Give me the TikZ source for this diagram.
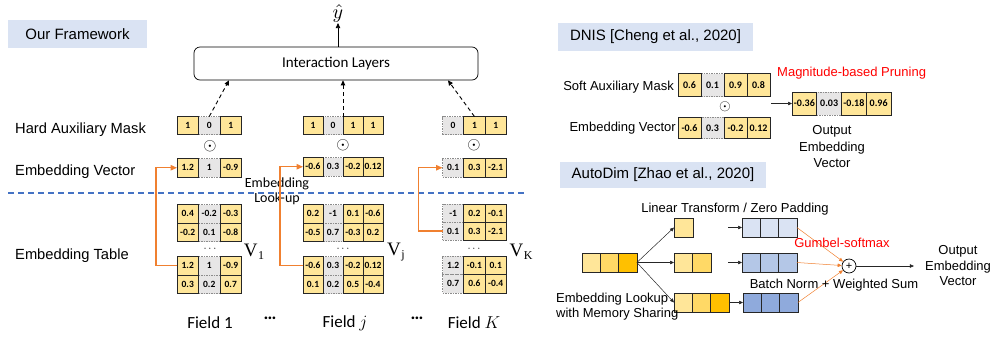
\documentclass[tikz,border=0pt]{standalone}
\usepackage{fontspec}
\setmainfont{Liberation Sans}
\newfontfamily\calib{Carlito}
\newfontfamily\serifV{Liberation Serif}
\usetikzlibrary{arrows.meta,calc}
\definecolor{cyel}{HTML}{FFE699}
\definecolor{cyelm}{HTML}{FFD966}
\definecolor{cgold}{HTML}{FFC000}
\definecolor{cgray}{HTML}{E7E6E6}
\definecolor{cb1}{HTML}{DAE3F3}
\definecolor{cb2}{HTML}{B4C7E7}
\definecolor{cb3}{HTML}{8FAADC}
\definecolor{cband}{HTML}{DAE3F3}
\definecolor{corange}{HTML}{F08030}
\definecolor{cdblue}{HTML}{4472C4}
\newcommand{\fs}[2]{\fontsize{#1}{#2}\selectfont}
\newcommand{\cellfont}{\calib\bfseries\fs{9.5}{10}}
\newcommand{\dcellfont}{\calib\bfseries\fs{10}{11}}
\newcommand{\vsub}[1]{{\serifV V\kern0.5pt\raisebox{-3.5pt}{\fs{12}{13}#1}}}
\newcommand{\hadamard}[1]{\scalebox{#1}{$\odot$}}
\tikzset{
 cellbase/.style={inner sep=0pt, outer sep=0pt, line width=0.8pt},
 gcell/.style={cellbase, fill=cgray, draw=black!45, dash pattern=on 1.5pt off 1pt},
 ycell/.style={cellbase, draw=black!85},
 band/.style={fill=cband, inner sep=0pt, minimum height=28pt},
 lbl/.style={font=\fs{14.7}{17}, anchor=west, inner sep=0pt},
 rlbl/.style={font=\fs{13}{15.5}, inner sep=0pt},
 vlab/.style={font=\fs{19}{21}, inner sep=0pt},
 fieldlab/.style={font=\calib\fs{17}{19}, inner sep=0pt},
 odotlab/.style={inner sep=0pt},
 arr/.style={-{Triangle[length=5pt,width=4.5pt]}, line width=0.7pt},
 darr/.style={arr, dash pattern=on 4pt off 3pt, line width=0.9pt},
 oarr/.style={-{Triangle[length=6.5pt,width=5.5pt]}, draw=corange, line width=1.3pt},
 sarr/.style={-{Triangle[length=4pt,width=3.5pt]}, line width=0.5pt, draw=black!85},
 othin/.style={-{Triangle[length=4pt,width=3.5pt]}, draw=corange, line width=0.5pt},
}
\newcommand{\cellrow}[7]{%
 \foreach [count=\i] \t/\v in {#7}{%
   \ifnum\t=0 \node[gcell, minimum width=#4pt, minimum height=#5pt, font=#6] (#1\i) at ({#2+(\i-0.5)*#4},{#3+0.5*#5}) {\v};\fi}%
 \foreach [count=\i] \t/\v in {#7}{%
   \ifnum\t>0 \ifcase\t\or\def\cfill{cyel}\or\def\cfill{cyelm}\or\def\cfill{cgold}\or\def\cfill{cb1}\or\def\cfill{cb2}\or\def\cfill{cb3}\fi
   \node[ycell, fill=\cfill, minimum width=#4pt, minimum height=#5pt, font=#6] (#1\i) at ({#2+(\i-0.5)*#4},{#3+0.5*#5}) {\v};\fi}%
}
\begin{document}
\begin{tikzpicture}[x=1pt,y=-1pt]
\useasboundingbox (0,0) rectangle (991,341);

% ---------------- Our Framework ----------------
\node[band, minimum width=139pt, font=\fs{15}{18}] (ourfw) at (77.5,34) {Our Framework};
\node[draw, rounded corners=6pt, line width=0.7pt, minimum width=284pt, minimum height=33pt, font=\calib\fs{15}{17}] (inter) at (336,63.5) {Interaction Layers};
\node[inner sep=1pt] (yhat) at (338,13) {\scalebox{2.0}{$\hat{y}$}};
\draw[arr] (inter.north -| yhat) -- (yhat.south);

\node[lbl] (lhm) at (15,130) {Hard Auxiliary Mask};
\node[lbl] (lev) at (15,172) {Embedding Vector};
\node[lbl] (let) at (15,256) {Embedding Table};

\draw[draw=cdblue, line width=1.3pt, dash pattern=on 6pt off 4pt] (8,193) -- (527,193);
\node[font=\calib\fs{14}{15}, align=center, inner sep=0pt] (lookup) at (277,191.5) {Embedding\\Look-up};

% Field 1
\cellrow{ma}{177}{116.5}{21.5}{18}{\cellfont}{1/1,0/0,1/1}
\node[odotlab] (oa) at (210,146) {\hadamard{1.7}};
\cellrow{va}{177}{158.5}{21.5}{18.5}{\cellfont}{1/1.2,0/1,1/-0.9}
\cellrow{tap}{177}{204.5}{21.5}{18.5}{\cellfont}{1/0.4,0/-0.2,1/-0.3}
\cellrow{taq}{177}{223}{21.5}{18.5}{\cellfont}{1/-0.2,0/0.1,1/-0.8}
\node[font=\fs{11}{12}, inner sep=0pt] (dta) at (210,249) {$\cdots$};
\cellrow{tar}{177}{256.5}{21.5}{18.5}{\cellfont}{1/1.2,0/1,1/-0.9}
\cellrow{tas}{177}{275}{21.5}{18.5}{\cellfont}{1/0.3,0/0.2,1/0.7}
\node[vlab] (Va) at (254,252) {\vsub{1}};
\node[fieldlab] (fa) at (210,323) {Field 1};

% Field j
\cellrow{mj}{303}{116.5}{20}{18}{\cellfont}{1/1,0/0,1/1,1/1}
\node[odotlab] (oj) at (343,145) {\hadamard{1.7}};
\cellrow{vj}{303}{157.5}{20}{18.5}{\cellfont}{1/-0.6,0/0.3,1/-0.2,1/0.12}
\cellrow{tjp}{303}{204.5}{20}{18.5}{\cellfont}{1/0.2,0/-1,1/0.1,1/-0.6}
\cellrow{tjq}{303}{223}{20}{18.5}{\cellfont}{1/-0.5,0/0.7,1/-0.3,1/0.2}
\node[font=\fs{11}{12}, inner sep=0pt] (dtj) at (343,249) {$\cdots$};
\cellrow{tjr}{303}{256.5}{20}{18.5}{\cellfont}{1/-0.6,0/0.3,1/-0.2,1/0.12}
\cellrow{tjs}{303}{275}{20}{18.5}{\cellfont}{1/0.1,0/0.2,1/0.5,1/-0.4}
\node[vlab] (Vj) at (396,252) {\vsub{j}};
\node[fieldlab] (fj) at (345,323) {Field $j$};

% Field K
\cellrow{mk}{442.5}{116.5}{21.3}{18}{\cellfont}{0/0,1/1,1/1}
\node[odotlab] (ok) at (474,145) {\hadamard{1.7}};
\cellrow{vk}{442.5}{158.5}{21.3}{18.5}{\cellfont}{0/0.1,1/0.3,1/-2.1}
\cellrow{tkp}{442.5}{204}{21.3}{18}{\cellfont}{0/-1,1/0.2,1/-0.1}
\cellrow{tkq}{442.5}{222}{21.3}{18}{\cellfont}{0/0.1,1/0.3,1/-2.1}
\node[font=\fs{11}{12}, inner sep=0pt] (dtk) at (474,249) {$\cdots$};
\cellrow{tkr}{442.5}{256}{21.3}{18.5}{\cellfont}{0/1.2,1/-0.1,1/0.1}
\cellrow{tks}{442.5}{274.5}{21.3}{18.5}{\cellfont}{0/0.7,1/0.6,1/-0.4}
\node[vlab] (Vk) at (521,252) {\vsub{K}};
\node[fieldlab] (fk) at (474,323) {Field $K$};

\node[font=\calib\bfseries\fs{18}{20}, inner sep=0pt] (dda) at (270,318) {…};
\node[font=\calib\bfseries\fs{18}{20}, inner sep=0pt] (ddb) at (417,318) {…};

% dashed arrows
\draw[darr] (ma2.north) -- ($(inter.south)+(-107,0)$);
\draw[darr] (mj2.north east) -- (mj2.north east |- inter.south);
\draw[darr] (mk2.north) -- ($(inter.south)+(112,0)$);

% orange look-up arrows
\draw[oarr] (tar1.west) -- ++(-21,0) |- (va1.west);
\draw[oarr] (tjr1.west) -- ++(-23,0) |- (vj1.west);
\draw[oarr] (tkq1.west) -- ++(-24,0) |- (vk1.west);

% ---------------- DNIS ----------------
\node[band, minimum width=195pt, font=\fs{15}{18}] (dnis) at (655.5,37) {DNIS [Cheng et al., 2020]};
\node[rlbl, anchor=east] (dsl) at (674,87) {Soft Auxiliary Mask};
\cellrow{dm}{678}{73.5}{23}{23}{\dcellfont}{1/0.6,0/0.1,1/0.9,1/0.8}
\node[odotlab] (dod) at (725,107) {\hadamard{1.5}};
\node[rlbl, anchor=east] (dev) at (676,128) {Embedding Vector};
\cellrow{dv}{678}{117}{23}{21.5}{\dcellfont}{1/-0.6,0/0.3,1/-0.2,1/0.12}
\cellrow{dout}{792}{92}{24.75}{23}{\dcellfont}{1/-0.36,0/0.03,1/-0.18,1/0.96}
\draw[sarr] (dout1.west -| dm4.east) ++(1,0) -- (dout1.west);
\node[rlbl, text=red, anchor=west] (mag) at (777,73) {Magnitude-based Pruning};
\node[rlbl, align=center, font=\fs{13}{16.5}] (doutl) at (832,147) {Output\\Embedding\\Vector};

% ---------------- AutoDim ----------------
\node[band, minimum width=206pt, minimum height=26pt, font=\fs{15}{18}] (autod) at (663,175) {AutoDim [Zhao et al., 2020]};
\node[rlbl] (lt) at (735,209) {Linear Transform / Zero Padding};
\cellrow{ain}{582}{253}{18.3}{19}{\relax}{1/{},2/{},3/{}}
\cellrow{aa}{674}{218}{19}{19}{\relax}{1/{}}
\cellrow{am}{674}{253}{18.5}{19}{\relax}{1/{},2/{}}
\cellrow{ab}{674}{293}{18.3}{19}{\relax}{1/{},2/{},3/{}}
\cellrow{bt}{742}{218}{18.3}{19}{\relax}{4/{},4/{},4/{}}
\cellrow{bm}{742}{253}{18.3}{19}{\relax}{5/{},5/{},5/{}}
\cellrow{bb}{743}{293}{18.3}{19}{\relax}{6/{},6/{},6/{}}
\draw[sarr] (ain3.east) -- (aa1.west);
\draw[sarr] (ain3.east) -- (am1.west);
\draw[sarr] (ain3.east) -- (ab1.west);
\draw[sarr] ($(bt1.west)+(-14,0)$) -- (bt1.west);
\draw[sarr] ($(bm1.west)+(-14,0)$) -- (bm1.west);
\draw[sarr] (ab3.east) -- (bb1.west);
\node[draw, circle, minimum size=14pt, inner sep=0pt, line width=0.7pt, font=\fs{11}{12}] (plus) at (849,266) {+};
\draw[othin] (bt3.east) -- (plus);
\draw[othin] (bm3.east) -- (plus);
\draw[othin] (bb3.east) -- (plus);
\node[rlbl, align=center] (aout) at (958,266) {Output\\Embedding\\Vector};
\draw[sarr] (plus) -- ($(aout.west)+(-11,0)$);
\node[rlbl, text=red] (gs) at (842,243) {Gumbel-softmax};
\node[rlbl] (bn) at (834,285) {Batch Norm + Weighted Sum};
\node[rlbl, align=left, anchor=west] (elk) at (556,306.5) {Embedding Lookup\\with Memory Sharing};
\end{tikzpicture}
\end{document}
